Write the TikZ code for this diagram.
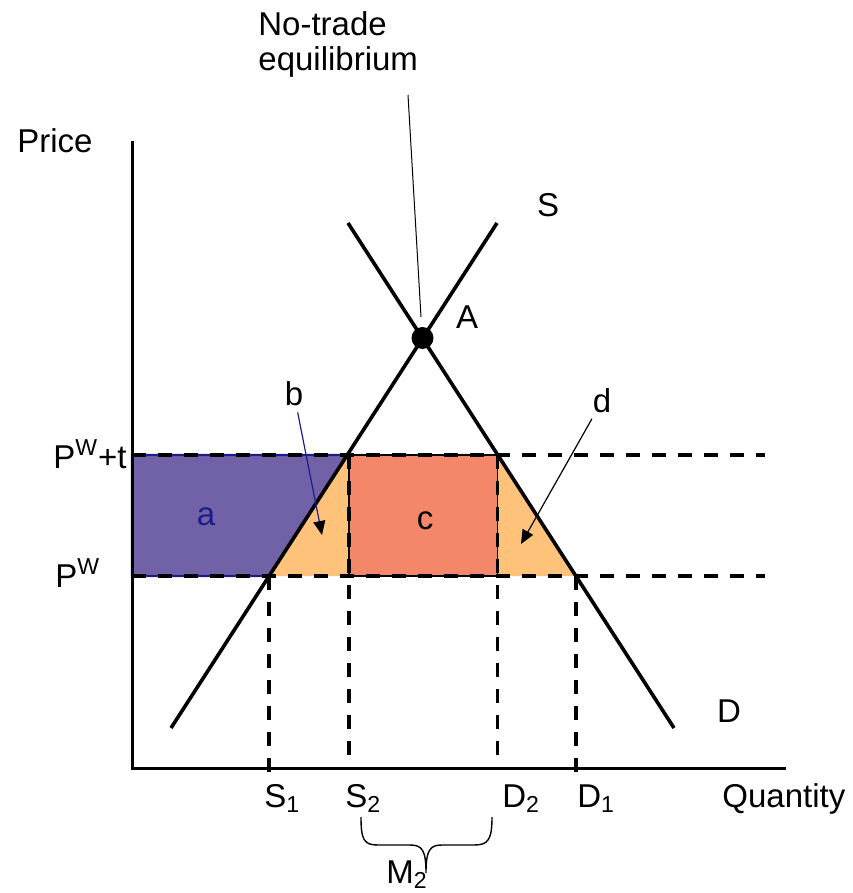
\documentclass[tikz,border=0pt]{standalone}
\usepackage{fontspec}
\setmainfont{Liberation Sans}
\usetikzlibrary{arrows.meta, calc}
\definecolor{cPurple}{HTML}{7162A8}
\definecolor{cNavy}{HTML}{1C1C8A}
\definecolor{cPeach}{HTML}{FFC27A}
\definecolor{cSalmon}{HTML}{F4866A}
\tikzset{
  axis/.style={line width=1.5pt},
  curve/.style={line width=1.8pt},
  guide/.style={line width=1.8pt, dash pattern=on 7pt off 6pt},
  lbl/.style={font=\fontsize{16.5}{17.5}\selectfont, inner sep=0pt},
  pointer/.style={-{Triangle[length=7pt, width=6pt, black]}, line width=0.6pt, #1},
  pointer/.default=black,
  bracket/.style={line width=0.7pt},
}

\begin{document}
\begin{tikzpicture}[x=0.5pt, y=-0.5pt]
  \useasboundingbox (0,0) rectangle (852,893);

  % Key points
  \coordinate (O)    at (132,768);
  \coordinate (A)    at (422.5,338);
  \coordinate (s1)   at (269,576);
  \coordinate (s2)   at (347,455);
  \coordinate (d2)   at (498,455);
  \coordinate (d1)   at (576,576);
  \coordinate (sLo)  at (171,728);
  \coordinate (sHi)  at (497,223);
  \coordinate (dHi)  at (348,223);
  \coordinate (dLo)  at (674,728);

  % Welfare areas
  \filldraw[fill=cPurple, draw=cNavy, line width=1.2pt]
    (132,455) -- (s2) -- (s1) -- (132,576) -- cycle;
  \fill[cPeach] (s2) -- (349,455) -- (349,576) -- (s1) -- cycle;
  \fill[cPeach] (d2) -- (d1) -- (497.5,576) -- (497.5,455) -- cycle;
  \filldraw[fill=cSalmon, draw=black, line width=0.8pt] (349,455) rectangle (497.5,576);

  % Price and quantity guides
  \draw[guide] (132,455) -- (765,455);
  \draw[guide] (132,576) -- (765,576);
  \draw[guide] (s1) -- (269,772);
  \draw[guide] (349,455) -- (349,768);
  \draw[guide] (497.5,455) -- (497.5,768);
  \draw[guide] (d1) -- (576,772);

  % Supply and demand
  \draw[curve] (sLo) -- (sHi);
  \draw[curve] (dHi) -- (dLo);

  % Axes
  \draw[axis] (132,141) -- (O) -- (786,768);
  \fill (A) circle[radius=11];

  % Labels
  \node[lbl, anchor=north west, align=left] (notrade) at (258,11) {No-trade\\equilibrium};
  \coordinate (leadtop) at (408,95);
  \draw[line width=0.5pt] (leadtop) -- ($(A)+(-1.5,-21)$);
  \node[lbl, anchor=west] (price) at (17,141) {Price};
  \node[lbl] (slbl) at (548,205) {S};
  \node[lbl] (dlbl) at (729,711) {D};
  \node[lbl] (albl) at (467,317) {A};
  \node[lbl, anchor=base east] (pwt) at (127,468) {P\textsuperscript{W}+t};
  \node[lbl, anchor=base west] (pw) at (55,587) {P\textsuperscript{W}};
  \node[lbl, text=cNavy] (alabel) at (206,517) {a};
  \node[lbl] (blabel) at (294,394) {b};
  \node[lbl] (clabel) at (425,521) {c};
  \node[lbl] (dlabel) at (602,401) {d};
  \node[lbl, anchor=base west] (s1lbl) at (264,807) {S\textsubscript{1}};
  \node[lbl, anchor=base west] (s2lbl) at (345,807) {S\textsubscript{2}};
  \node[lbl, anchor=base west] (d2lbl) at (502,807) {D\textsubscript{2}};
  \node[lbl, anchor=base west] (d1lbl) at (577,807) {D\textsubscript{1}};
  \node[lbl, anchor=base west] (qty) at (722,807) {Quantity};
  \node[lbl, anchor=base west] (m2lbl) at (386,883) {M\textsubscript{2}};

  % Pointers to triangles
  \coordinate (btip) at (322,535);
  \coordinate (dtip) at (521,544);
  \draw[pointer=cNavy, shorten <=3pt] (blabel) -- (btip);
  \draw[pointer, shorten <=3pt] (dlabel) -- (dtip);

  % Import brace
  \draw[bracket] (361,817) .. controls (361,840) and (364,845) .. (378,845) -- (410,845)
    .. controls (422,845) and (426,850) .. (426,873)
    .. controls (426,850) and (430,845) .. (442,845) -- (474,845)
    .. controls (488,845) and (492,840) .. (492,817);

\end{tikzpicture}
\end{document}
